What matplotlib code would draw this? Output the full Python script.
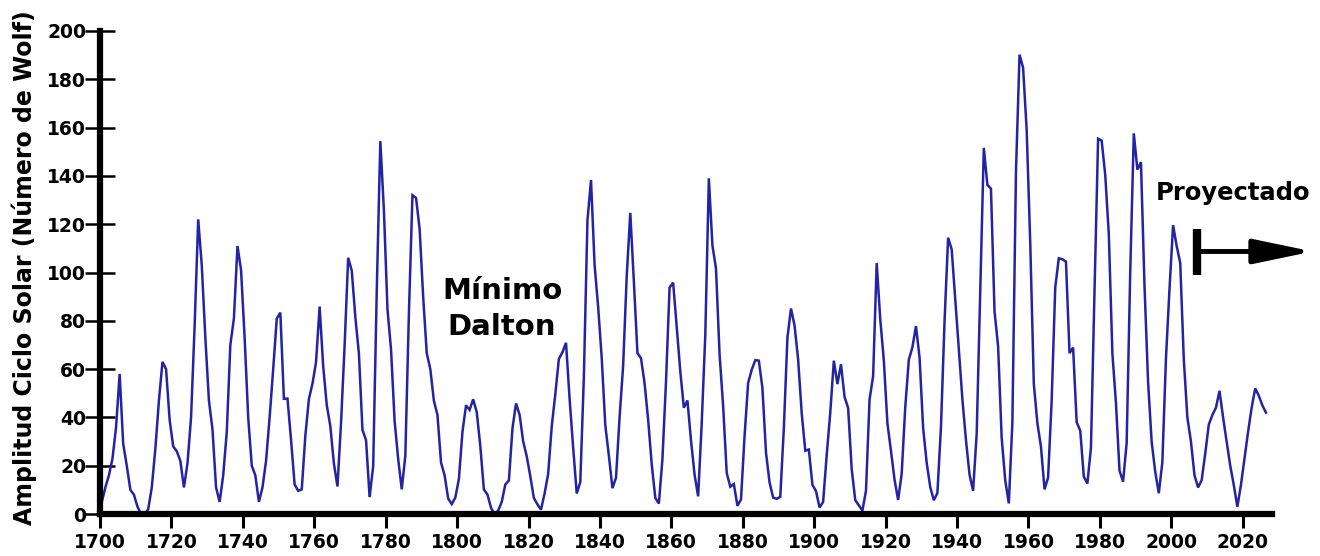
import numpy as np
import matplotlib
matplotlib.use("Agg")
import matplotlib.pyplot as plt
from matplotlib.patches import ArrowStyle

plt.rcParams['font.family'] = ['DejaVu Sans']
plt.rcParams['font.weight'] = 'bold'

# Numero de Wolf anual (1700-2026)
years = np.arange(1700, 2027)
wolf = [
    5, 11, 16, 23, 36, 58, 29, 20, 10, 8,
    3, 0, 0, 2, 11, 27, 47, 63, 60, 39,
    28, 26, 22, 11, 21, 40, 78, 122, 103, 73,
    47, 35, 11, 5, 16, 34, 70, 81, 111, 101,
    73, 40, 20, 16, 5, 11, 22, 40, 60, 80.9,
    83.4, 47.7, 47.8, 30.7, 12.2, 9.6, 10.2, 32.4, 47.6, 54,
    62.9, 85.9, 61.2, 45.1, 36.4, 20.9, 11.4, 37.8, 69.8, 106.1,
    100.8, 81.6, 66.5, 34.8, 30.6, 7, 19.8, 92.5, 154.4, 125.9,
    84.8, 68.1, 38.5, 22.8, 10.2, 24.1, 82.9, 132, 130.9, 118.1,
    89.9, 66.6, 60, 46.9, 41, 21.3, 16, 6.4, 4.1, 6.8,
    14.5, 34, 45, 43.1, 47.5, 42.2, 28.1, 10.1, 8.1, 2.5,
    0, 1.4, 5, 12.2, 13.9, 35.4, 45.8, 41.1, 30.1, 23.9,
    15.6, 6.6, 4, 1.8, 8.5, 16.6, 36.3, 49.6, 64.2, 67,
    70.9, 47.8, 27.5, 8.5, 13.2, 56.9, 121.5, 138.3, 103.2, 85.7,
    64.6, 36.7, 24.2, 10.7, 15, 40.1, 61.5, 98.5, 124.7, 96.3,
    66.6, 64.5, 54.1, 39, 20.6, 6.7, 4.3, 22.7, 54.8, 93.8,
    95.8, 77.2, 59.1, 44, 47, 30.5, 16.3, 7.3, 37.6, 74,
    139, 111.2, 101.6, 66.2, 44.7, 17, 11.3, 12.4, 3.4, 6,
    32.3, 54.3, 59.7, 63.7, 63.5, 52.2, 25.4, 13.1, 6.8, 6.3,
    7.1, 35.6, 73, 85.1, 78, 64, 41.8, 26.2, 26.7, 12.1,
    9.5, 2.7, 5, 24.4, 42, 63.5, 53.8, 62, 48.5, 43.9,
    18.6, 5.7, 3.6, 1.4, 9.6, 47.4, 57.1, 103.9, 80.6, 63.6,
    37.6, 26.1, 14.2, 5.8, 16.7, 44.3, 63.9, 69, 77.8, 64.9,
    35.7, 21.2, 11.1, 5.7, 8.7, 36.1, 79.7, 114.4, 109.6, 88.8,
    67.8, 47.5, 30.6, 16.3, 9.6, 33.2, 92.6, 151.6, 136.3, 134.7,
    83.9, 69.4, 31.5, 13.9, 4.4, 38, 141.7, 190.2, 184.8, 159,
    112.3, 53.9, 37.6, 27.9, 10.2, 15.1, 47, 93.8, 105.9, 105.5,
    104.5, 66.6, 68.9, 38, 34.5, 15.5, 12.6, 27.5, 92.5, 155.4,
    154.6, 140.4, 115.9, 66.6, 45.9, 17.9, 13.4, 29.4, 100.2, 157.6,
    142.6, 145.7, 94.3, 54.6, 29.9, 17.5, 8.6, 21.5, 64.3, 93.3,
    119.6, 111, 104, 64, 40, 30, 16, 11, 14, 25,
    37, 41, 44, 51, 40, 30, 20, 12, 3, 12,
    23, 34, 44, 52, 49, 45, 42,
]

x_ticks = list(range(1700, 2021, 20))
y_ticks = list(range(0, 201, 20))

# anotaciones
dalton_pos = (1812.6, 85)
proy_pos = (2017.3, 133)
proy_bar_x = 2007.2
proy_bar_y = (99, 118)
proy_arrow_y = 108.7
proy_arrow_end = 2039.6

fig = plt.figure(figsize=(13.2, 5.56), dpi=100)
ax = fig.add_axes([100 / 1320, 42 / 556, 1172 / 1320, 483 / 556])

# medias anuales dibujadas a mitad de año
ax.plot(years + 0.5, wolf, color='#2323a6', lw=1.8, solid_joinstyle='miter')

ax.set_xlim(1700, 2028.2)
ax.set_ylim(0, 200)
ax.set_xticks(x_ticks)
ax.set_yticks(y_ticks)

for s in ['top', 'right']:
    ax.spines[s].set_visible(False)
for s in ['left', 'bottom']:
    ax.spines[s].set_linewidth(4.5)
    ax.spines[s].set_color('black')

ax.tick_params(axis='x', direction='out', length=10, width=2.2, pad=4,
               labelsize=13.5, colors='black')
ax.tick_params(axis='y', direction='inout', length=21, width=1.8, pad=-0.5,
               labelsize=13.5, colors='black')
for lab in ax.get_xticklabels() + ax.get_yticklabels():
    lab.set_fontweight('bold')

ax.set_ylabel('Amplitud Ciclo Solar (Número de Wolf)', fontsize=17,
              fontweight='bold')
ax.yaxis.set_label_coords(-0.054, 0.511)

ax.text(dalton_pos[0], dalton_pos[1], 'Mínimo\nDalton', fontsize=21,
        fontweight='bold', ha='center', va='center', linespacing=1.35)
ax.text(proy_pos[0], proy_pos[1], 'Proyectado', fontsize=17.5,
        fontweight='bold', ha='center', va='center', clip_on=False)

ax.plot([proy_bar_x, proy_bar_x], proy_bar_y, color='black', lw=6,
        solid_capstyle='butt', clip_on=False)
ax.annotate('', xy=(proy_arrow_end, proy_arrow_y),
            xytext=(proy_bar_x, proy_arrow_y), annotation_clip=False,
            arrowprops=dict(arrowstyle=ArrowStyle('-|>', head_length=3.6,
                                                  head_width=0.75),
                            mutation_scale=10, lw=3.5, color='black',
                            shrinkA=0, shrinkB=0))

fig.savefig('out.png', dpi=100)
